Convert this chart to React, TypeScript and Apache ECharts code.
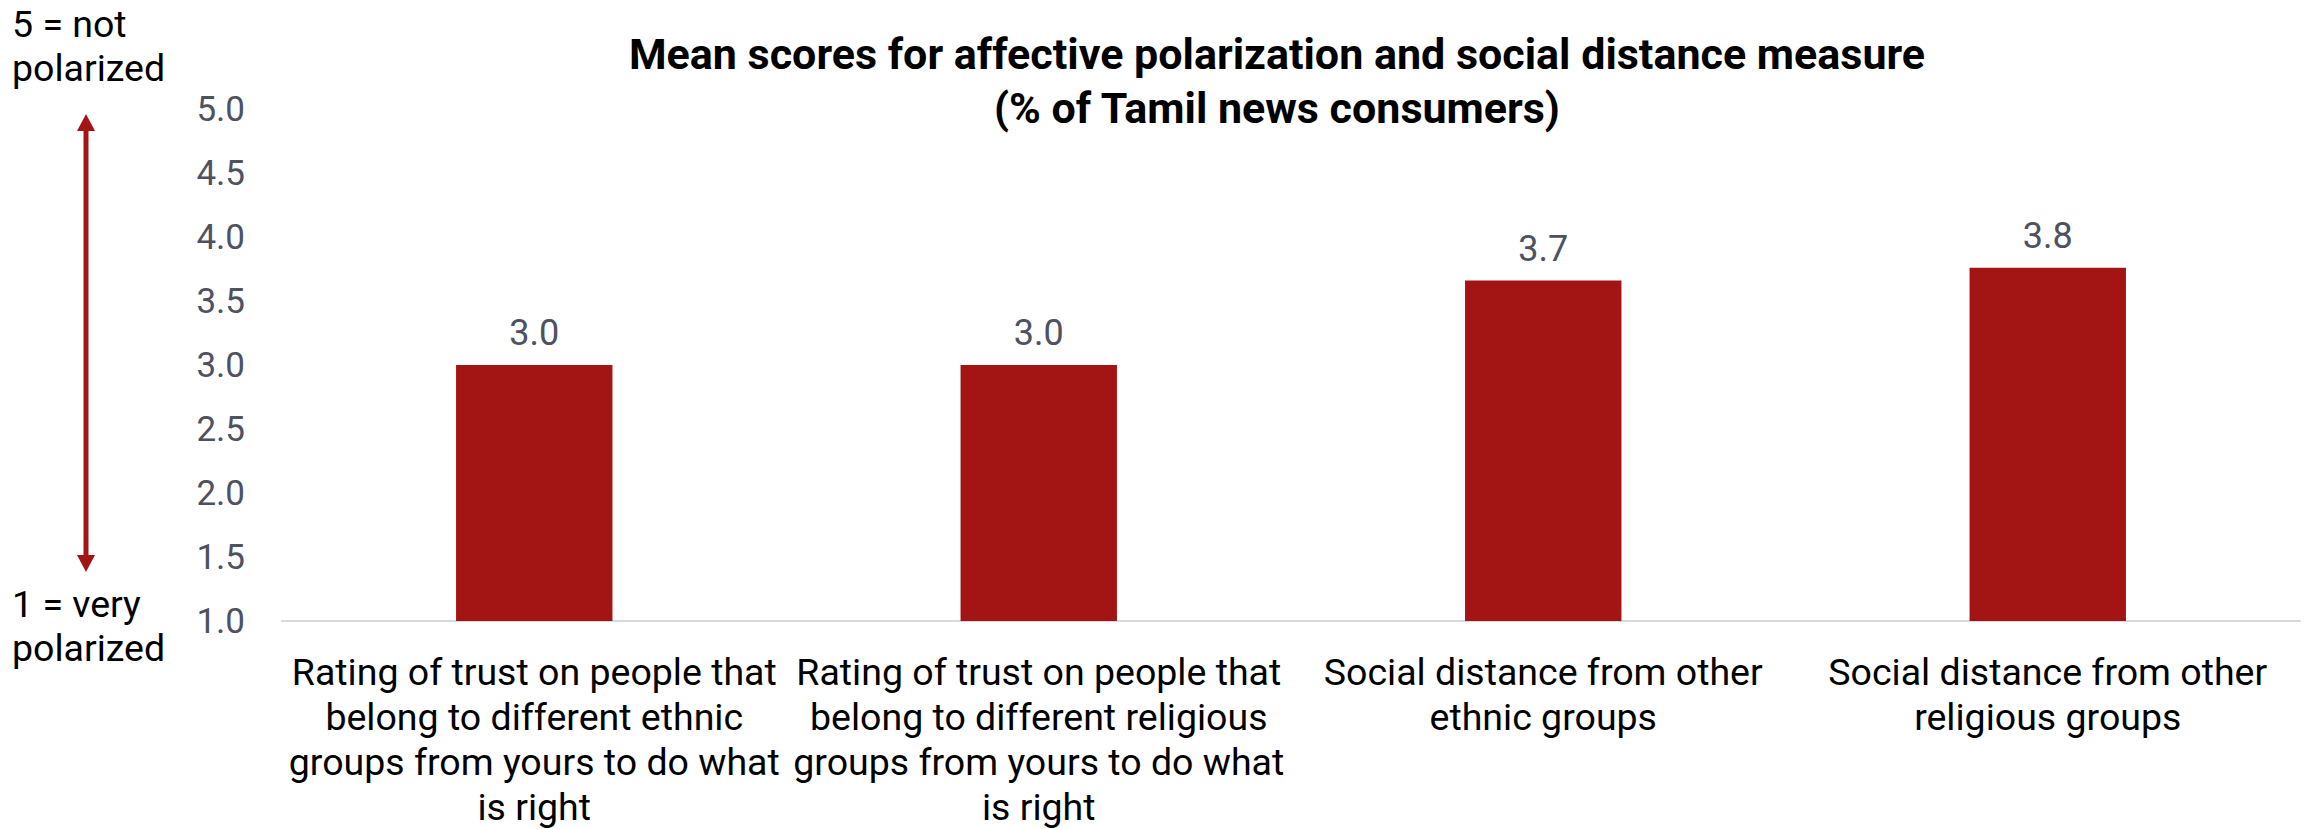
import React, { useEffect, useRef } from "react";
import * as echarts from "echarts";

const categories = [
  "Rating of trust on people that\nbelong to different ethnic\ngroups from yours to do what\nis right",
  "Rating of trust on people that\nbelong to different religious\ngroups from yours to do what\nis right",
  "Social distance from other\nethnic groups",
  "Social distance from other\nreligious groups",
];
const meanScores = [3.0, 3.0, 3.66, 3.76];
const titleLines = [
  "Mean scores for affective polarization and social distance measure",
  "(% of Tamil news consumers)",
];
const topNote = ["5 = not", "polarized"];
const bottomNote = ["1 = very", "polarized"];

const RED = "#A31515";
const GRAY = "#4D5160";
const FONT = "Roboto, sans-serif";

export default function App() {
  const ref = useRef<HTMLDivElement>(null);
  useEffect(() => {
    document.body.style.margin = "0";
    const chart = echarts.init(ref.current!, undefined, { renderer: "svg" });
    chart.setOption({
      animation: false,
      backgroundColor: "#ffffff",
      grid: { left: 282, right: 5, top: 109, bottom: 202, containLabel: false },
      xAxis: {
        type: "category",
        data: categories,
        axisLine: { lineStyle: { color: "#d9d9d9", width: 2 } },
        axisTick: { show: false },
        axisLabel: {
          interval: 0,
          margin: 28,
          color: "#000000",
          fontFamily: FONT,
          fontSize: 37.5,
          lineHeight: 45,
        },
      },
      yAxis: {
        type: "value",
        min: 1,
        max: 5,
        interval: 0.5,
        splitLine: { show: false },
        axisLine: { show: false },
        axisTick: { show: false },
        axisLabel: {
          margin: 37,
          color: GRAY,
          fontFamily: FONT,
          fontSize: 35,
          formatter: (v: number) => v.toFixed(1),
        },
      },
      series: [
        {
          type: "bar",
          data: meanScores,
          barWidth: "31%",
          itemStyle: { color: RED },
          label: {
            show: true,
            position: "top",
            distance: 14,
            color: GRAY,
            fontFamily: FONT,
            fontSize: 36,
            formatter: (p: any) => Number(p.value).toFixed(1),
          },
        },
      ],
      graphic: [
        {
          type: "text",
          x: 1277,
          y: 54,
          style: {
            text: titleLines[0],
            fontFamily: FONT,
            fontWeight: "bold",
            fontSize: 43,
            fill: "#000",
            textAlign: "center",
            textVerticalAlign: "middle",
          },
        },
        {
          type: "text",
          x: 1277,
          y: 108,
          style: {
            text: titleLines[1],
            fontFamily: FONT,
            fontWeight: "bold",
            fontSize: 43,
            fill: "#000",
            textAlign: "center",
            textVerticalAlign: "middle",
          },
        },
        {
          type: "text",
          x: 12,
          y: 46,
          style: {
            text: topNote.join("\n"),
            fontFamily: FONT,
            fontSize: 37.5,
            lineHeight: 44,
            fill: "#000",
            textAlign: "left",
            textVerticalAlign: "middle",
          },
        },
        {
          type: "text",
          x: 12,
          y: 626,
          style: {
            text: bottomNote.join("\n"),
            fontFamily: FONT,
            fontSize: 37.5,
            lineHeight: 44,
            fill: "#000",
            textAlign: "left",
            textVerticalAlign: "middle",
          },
        },
        {
          type: "line",
          shape: { x1: 86, y1: 128, x2: 86, y2: 558 },
          style: { stroke: RED, lineWidth: 5 },
        },
        {
          type: "polygon",
          shape: { points: [[86, 114], [77, 131], [95, 131]] },
          style: { fill: RED },
        },
        {
          type: "polygon",
          shape: { points: [[86, 572], [77, 555], [95, 555]] },
          style: { fill: RED },
        },
      ],
    });
    return () => chart.dispose();
  }, []);
  return <div ref={ref} style={{ width: 2305, height: 829 }} />;
}
